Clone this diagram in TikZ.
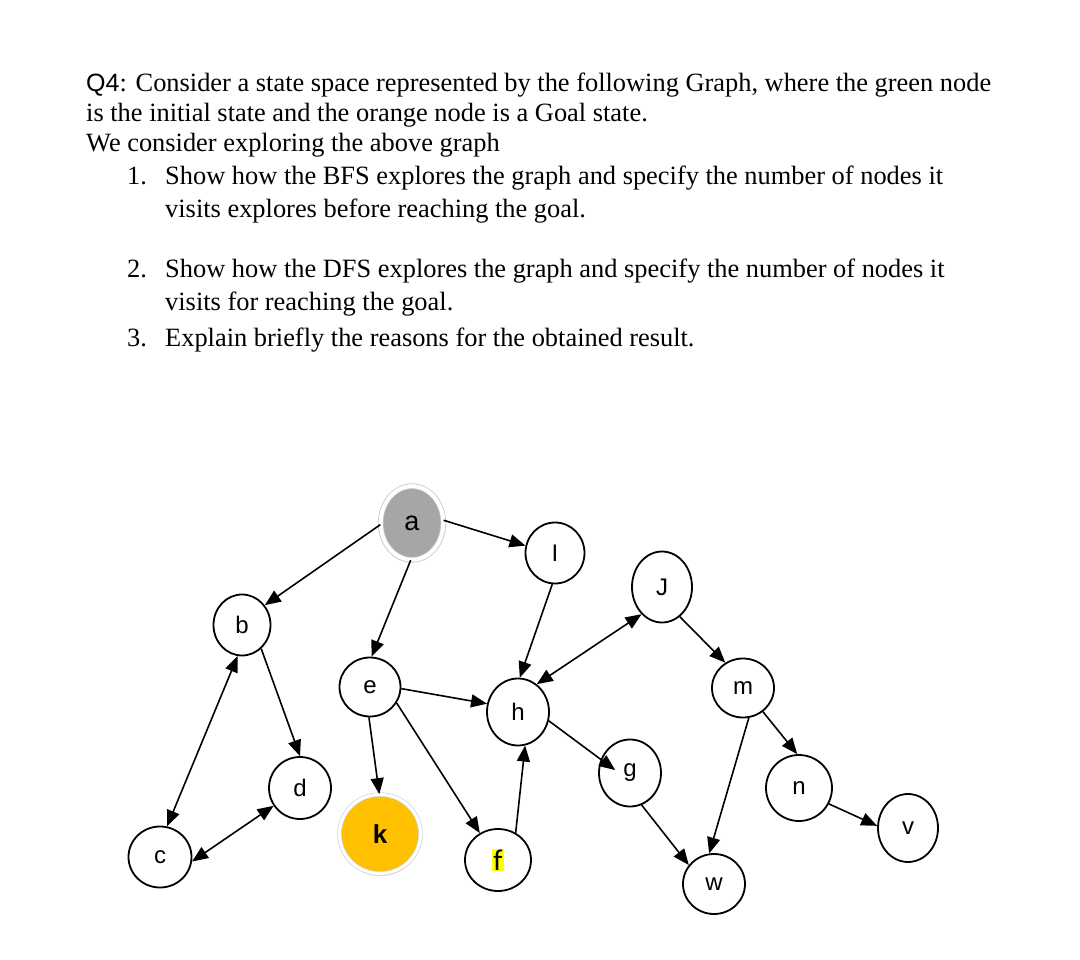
\documentclass[tikz,border=0pt]{standalone}
\usepackage{fontspec}
\setmainfont{Liberation Serif}
\newfontfamily\labfont{Liberation Sans}
\newfontfamily\califont{Carlito}
\usetikzlibrary{arrows.meta,shapes.geometric,shadows}
\setlength{\fboxsep}{1pt}
\definecolor{agray}{HTML}{A6A6A6}
\definecolor{korange}{HTML}{FFC000}
\definecolor{hiyellow}{HTML}{FFFF00}
\begin{document}
\begin{tikzpicture}[x=1pt,y=-1pt,
  txt/.style={anchor=base west, inner sep=0pt, font=\fontsize{26.4}{30}\selectfont},
  vtx/.style={ellipse, draw, line width=1.8pt, fill=white, inner sep=0pt,
    font=\labfont\fontsize{24}{27}\selectfont},
  tip/.tip={Triangle[length=16pt,width=13pt]},
  edge/.style={line width=1.6pt, -tip},
  bi/.style={line width=1.6pt, tip-tip}
]
\useasboundingbox (0,0) rectangle (1080,960);

% question text
\node[txt] (t1) at (86,92) {{\labfont\fontsize{25}{30}\selectfont Q4}: Consider a state space represented by the following Graph, where the green node};
\node[txt] (t2) at (86,122) {is the initial state and the orange node is a Goal state.};
\node[txt] (t3) at (86,152) {We consider exploring the above graph};
\node[txt] (n1) at (127,185) {1.};
\node[txt] (t4) at (165,185) {Show how the BFS explores the graph and specify the number of nodes it};
\node[txt] (t5) at (165,218) {visits explores before reaching the goal.};
\node[txt] (n2) at (127,278) {2.};
\node[txt] (t6) at (165,278) {Show how the DFS explores the graph and specify the number of nodes it};
\node[txt] (t7) at (165,311) {visits for reaching the goal.};
\node[txt] (n3) at (127,347) {3.};
\node[txt] (t8) at (165,347) {Explain briefly the reasons for the obtained result.};

% vertices
\node[vtx, fill=agray, draw=black!22, line width=0.8pt, double=white, double distance=4pt,
  minimum width=62.6pt, minimum height=73.6pt, font=\labfont\fontsize{27}{29}\selectfont,
  drop shadow={shadow xshift=-1.5pt, shadow yshift=-2.5pt, opacity=0.3}] (a) at (412,523) {a};
\node[vtx, minimum width=57pt, minimum height=61pt] (b) at (242,625) {b};
\node[vtx, minimum width=63pt, minimum height=61pt] (c) at (160,857) {c};
\node[vtx, minimum width=62pt, minimum height=62pt] (d) at (300,788) {d};
\node[vtx, minimum width=61pt, minimum height=59pt] (e) at (370,687) {e};
\node[vtx, fill=korange, draw=black!18, line width=0.7pt, double=white, double distance=3pt,
  minimum width=81pt, minimum height=79pt, font=\labfont\bfseries\fontsize{26}{28}\selectfont,
  drop shadow={shadow xshift=0.5pt, shadow yshift=-2.5pt, opacity=0.35, fill=brown}] (k) at (380,834) {k};
\node[vtx, minimum width=66pt, minimum height=62pt, font=\califont\fontsize{30}{32}\selectfont] (f) at (498,860) {\colorbox{hiyellow}{f}};
\node[vtx, minimum width=59pt, minimum height=61pt] (l) at (555,553) {I};
\node[vtx, minimum width=60pt, minimum height=71pt] (J) at (662,587) {J};
\node[vtx, minimum width=62pt, minimum height=67pt] (h) at (518,712) {h};
\node[vtx, minimum width=62pt, minimum height=67pt] (g) at (630,773) {g};
\node[vtx, minimum width=62pt, minimum height=60pt] (w) at (714,884) {w};
\node[vtx, minimum width=62pt, minimum height=59pt] (m) at (743,688) {m};
\node[vtx, minimum width=66pt, minimum height=66pt] (n) at (799,788) {n};
\node[vtx, minimum width=60pt, minimum height=68pt] (v) at (908,828) {v};

% connectors
\draw[edge] (a.183) -- (b.41);
\draw[edge] (a.268) -- (e.87);
\draw[edge] (a.5) -- (l.166);
\draw[edge] (b.309) -- (d.90);
\draw[bi] (b.262) -- (c.77);
\draw[bi] (c.352) -- (d.214);
\draw[edge] (e.268) -- (k.91);
\draw[edge] (e.329) -- (f.124);
\draw[edge] (e.357) -- (h.165);
\draw[edge] (l.265) -- (h.87);
\draw[bi] (h.56) -- (J.233);
\draw[edge, shorten >=-18pt] (h.344) -- (g.155);
\draw[edge] (f.57) -- (h.282);
\draw[edge] (J.301) -- (m.125);
\draw[edge] (m.310) -- (n.93);
\draw[edge] (m.281) -- (w.99);
\draw[edge] (g.290) -- (w.143);
\draw[edge] (n.332) -- (v.176);
\end{tikzpicture}
\end{document}
